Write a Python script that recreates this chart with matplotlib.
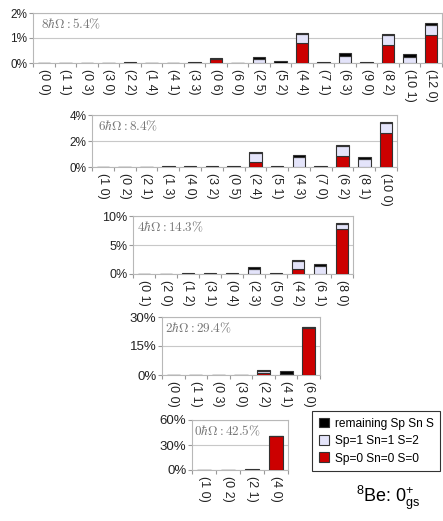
import matplotlib
matplotlib.use("Agg")
import matplotlib.pyplot as plt
import numpy as np

plt.rcParams['font.family'] = ['Liberation Sans', 'DejaVu Sans']
plt.rcParams['mathtext.fontset'] = 'custom'
plt.rcParams['mathtext.rm'] = 'Liberation Sans'
plt.rcParams['mathtext.it'] = 'Liberation Sans:italic'

# ---- data (percent) ----
cats8 = ["(0 0)", "(1 1)", "(0 3)", "(3 0)", "(2 2)", "(1 4)", "(4 1)", "(3 3)", "(0 6)", "(6 0)",
         "(2 5)", "(5 2)", "(4 4)", "(7 1)", "(6 3)", "(9 0)", "(8 2)", "(10 1)", "(12 0)"]
red8 = [0, 0, 0, 0, 0, 0, 0, 0, 0.15, 0, 0, 0, 0.80, 0, 0, 0, 0.73, 0, 1.12]
light8 = [0, 0, 0, 0, 0, 0, 0, 0, 0, 0, 0.17, 0, 0.37, 0, 0.30, 0, 0.39, 0.24, 0.41]
black8 = [0.01, 0.01, 0.005, 0.005, 0.03, 0.02, 0.02, 0.05, 0.05, 0.02, 0.06, 0.07, 0.05, 0.05, 0.11, 0.03, 0.05, 0.13, 0.06]

cats6 = ["(1 0)", "(0 2)", "(2 1)", "(1 3)", "(4 0)", "(3 2)", "(0 5)", "(2 4)", "(5 1)", "(4 3)",
         "(7 0)", "(6 2)", "(8 1)", "(10 0)"]
red6 = [0, 0, 0, 0, 0, 0, 0, 0.39, 0, 0, 0, 0.83, 0, 2.63]
light6 = [0, 0, 0, 0, 0, 0, 0, 0.72, 0, 0.77, 0, 0.77, 0.65, 0.77]
black6 = [0.02, 0.03, 0.03, 0.04, 0.04, 0.07, 0.04, 0.08, 0.07, 0.13, 0.04, 0.10, 0.15, 0.10]

cats4 = ["(0 1)", "(2 0)", "(1 2)", "(3 1)", "(0 4)", "(2 3)", "(5 0)", "(4 2)", "(6 1)", "(8 0)"]
red4 = [0, 0, 0, 0, 0, 0, 0, 0.86, 0, 7.70]
light4 = [0, 0, 0, 0, 0, 0.90, 0, 1.31, 1.30, 0.87]
black4 = [0.05, 0.05, 0.10, 0.12, 0.20, 0.24, 0.10, 0.23, 0.40, 0.17]

cats2 = ["(0 0)", "(1 1)", "(0 3)", "(3 0)", "(2 2)", "(4 1)", "(6 0)"]
red2 = [0, 0, 0, 0, 1.2, 0, 24.4]
light2 = [0, 0, 0, 0, 0.8, 0.7, 0.3]
black2 = [0.1, 0.1, 0.05, 0.1, 0.7, 1.6, 0.3]

cats0 = ["(1 0)", "(0 2)", "(2 1)", "(4 0)"]
red0 = [0, 0, 0, 40.8]
light0 = [0, 0, 0, 0]
black0 = [0.2, 0.2, 1.3, 0.3]

labels = [r"$8\hbar\Omega:5.4\%$", r"$6\hbar\Omega:8.4\%$", r"$4\hbar\Omega:14.3\%$",
          r"$2\hbar\Omega:29.4\%$", r"$0\hbar\Omega:42.5\%$"]
yticks = [[0, 1, 2], [0, 2, 4], [0, 5, 10], [0, 15, 30], [0, 30, 60]]
legend_names = ["remaining Sp Sn S", "Sp=1 Sn=1 S=2", "Sp=0 Sn=0 S=0"]

panels = [(cats8, red8, light8, black8), (cats6, red6, light6, black6),
          (cats4, red4, light4, black4), (cats2, red2, light2, black2),
          (cats0, red0, light0, black0)]

W, H = 443, 521
boxes = [(33, 442, 13, 63), (92, 397, 115, 167), (133, 353, 216, 274),
         (162, 320, 317, 375), (192, 288, 420, 470)]
ytick_fs = [8.5, 8.5, 9, 9.5, 9.5]

RED = "#cc0000"
LIGHT = "#e4e4fa"
BLACK = "#000000"
EDGE = "#333333"

fig = plt.figure(figsize=(W / 100, H / 100), dpi=100)
handles = None
for i, ((cats, red, light, black), (l, r, t, b)) in enumerate(zip(panels, boxes)):
    ax = fig.add_axes([l / W, 1 - b / H, (r - l) / W, (b - t) / H])
    x = np.arange(len(cats))
    red = np.array(red); light = np.array(light); black = np.array(black)
    wdt = 0.58
    h1 = ax.bar(x, red, wdt, color=RED, edgecolor=EDGE, linewidth=0.8, zorder=3)
    h2 = ax.bar(x, light, wdt, bottom=red, color=LIGHT, edgecolor=EDGE, linewidth=0.8, zorder=3)
    h3 = ax.bar(x, black, wdt, bottom=red + light, color=BLACK, edgecolor=EDGE, linewidth=0.8, zorder=3)
    if handles is None:
        handles = [h3, h2, h1]
    ax.set_xlim(-0.5, len(cats) - 0.5)
    ax.set_ylim(0, yticks[i][-1])
    ax.set_yticks(yticks[i])
    ax.set_yticklabels([f"{v}%" for v in yticks[i]], fontsize=ytick_fs[i], color="#222222")
    ax.set_xticks(x)
    ax.set_xticklabels(cats, rotation=270, fontsize=9, color="#222222")
    ax.set_xticks(np.arange(len(cats) + 1) - 0.5, minor=True)
    ax.tick_params(axis='x', which='major', length=0, pad=4)
    ax.tick_params(axis='x', which='minor', length=3, color="#999999", width=0.8)
    ax.tick_params(axis='y', length=3, color="#999999", width=0.8, pad=1)
    ax.grid(axis='y', color="#c8c8c8", linewidth=0.8, zorder=0)
    for s in ax.spines.values():
        s.set_color("#b8b8b8")
        s.set_linewidth(0.8)
    ax.text(0.02, 0.93, labels[i], transform=ax.transAxes, ha='left', va='top',
            fontsize=9.5, color="#777777", math_fontfamily='cm')

leg = fig.legend(handles, legend_names, loc='upper left',
                 bbox_to_anchor=(312 / W, 1 - 411 / H), fontsize=8.6, frameon=True,
                 fancybox=False, edgecolor='black', handlelength=0.9, handleheight=0.9,
                 handletextpad=0.45, borderpad=0.55, labelspacing=0.45, borderaxespad=0)
leg.get_frame().set_linewidth(0.8)

fig.text(388 / W, 1 - 498 / H, r"$^{8}$Be: 0$^{+}_{\mathrm{gs}}$", ha='center', va='center',
         fontsize=13)

fig.savefig("out.png", dpi=100)
